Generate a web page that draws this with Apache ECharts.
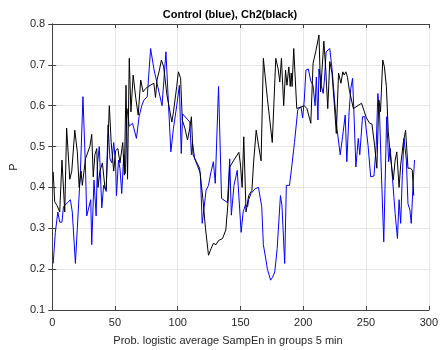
<!DOCTYPE html>
<html>
<head>
<meta charset="utf-8">
<script src="https://cdn.jsdelivr.net/npm/echarts@6/dist/echarts.min.js"></script>
<style>
  html, body { margin: 0; padding: 0; background: #fff; }
  #chart { width: 441px; height: 350px; }
</style>
</head>
<body>
<div id="chart"></div>
<script>
// values, [x, P]
const control = [
  [0.8,0.214],[2.5,0.29],[4.5,0.34],[6,0.315],[7.8,0.315],[9,0.353],[10.5,0.357],[13,0.365],[14.5,0.37],[16,0.34],
  [18.5,0.214],[20,0.30],[22.5,0.44],[24.5,0.622],[26.5,0.45],[27.5,0.33],[29,0.33],[30.7,0.37],[31.5,0.26],[33.3,0.418],
  [35,0.33],[36,0.455],[37.5,0.50],[39.5,0.35],[41,0.405],[43,0.39],[44.5,0.553],[46,0.47],[47.5,0.46],[49,0.51],
  [50.5,0.46],[51.2,0.38],[52.8,0.467],[54,0.446],[55.4,0.385],[57,0.48],[58.3,0.434],[59.6,0.593],[61.4,0.55],[64,0.557],
  [67.1,0.52],[69.2,0.573],[71.3,0.60],[73.1,0.614],[75.7,0.622],[78.4,0.74],[81,0.69],[83.5,0.655],[87.5,0.60],[90.6,0.732],
  [92.7,0.60],[94.5,0.487],[96.6,0.545],[99.2,0.60],[101.3,0.65],[102.8,0.483],[103.9,0.58],[109.6,0.56],[110.9,0.48],[111.7,0.51],
  [113.5,0.47],[116.1,0.45],[118,0.434],[119.5,0.312],[122.6,0.393],[124.5,0.405],[126.5,0.438],[128.4,0.463],[129.9,0.41],[132.5,0.647],
  [134.9,0.373],[139.6,0.363],[141.4,0.47],[142.7,0.332],[144.8,0.405],[147.4,0.442],[150.5,0.29],[152.1,0.34],[153.9,0.357],[155.7,0.353],
  [156.5,0.37],[158.3,0.385],[161.7,0.397],[164.3,0.40],[166.9,0.353],[168.2,0.26],[170.3,0.222],[171.4,0.20],[172.4,0.20],[174,0.173],
  [175.5,0.18],[177.3,0.193],[179.2,0.25],[180.5,0.25],[181.8,0.38],[183,0.357],[185.2,0.214],[186.5,0.405],[189,0.405],[190.4,0.44],
  [193,0.51],[195.6,0.59],[198.2,0.597],[199.5,0.57],[200.8,0.614],[202.1,0.687],[204,0.69],[206,0.66],[207.8,0.65],[209.4,0.60],
  [210.4,0.67],[211.7,0.565],[212.5,0.69],[214.3,0.65],[215.9,0.63],[217,0.67],[218.2,0.732],[221.1,0.74],[222.9,0.69],[224.8,0.618],
  [226.8,0.545],[229.4,0.48],[231.3,0.524],[233.4,0.577],[234.7,0.463],[236.5,0.585],[237.8,0.642],[239.3,0.667],[240.6,0.56],[241.9,0.45],
  [243.8,0.52],[245,0.48],[247.2,0.573],[249,0.573],[251.6,0.503],[253.7,0.426],[256.3,0.428],[258.1,0.503],[259.4,0.63],[260.7,0.585],
  [262,0.455],[264.1,0.267],[266.4,0.573],[268,0.463],[269.3,0.495],[271.1,0.42],[273.2,0.336],[275,0.275],[276.3,0.37],[277.6,0.312],
  [278.9,0.43],[280.2,0.52],[282.1,0.467],[283.4,0.36],[284.9,0.345],[286,0.312],[287.5,0.41],[288.6,0.467]
]

const ch2 = [
  [0.8,0.438],[2,0.365],[4,0.355],[6,0.34],[7.8,0.467],[10,0.34],[11.5,0.545],[14,0.42],[15.6,0.44],[18,0.54],
  [20,0.487],[21.5,0.40],[23,0.44],[24,0.405],[26.5,0.47],[30,0.50],[31.5,0.53],[32.7,0.426],[34,0.48],[35.5,0.495],
  [36.5,0.40],[38,0.44],[40,0.46],[42,0.40],[43,0.395],[45.5,0.60],[47,0.51],[49,0.44],[50.5,0.49],[52.3,0.495],
  [54,0.46],[56.2,0.51],[57.5,0.43],[58.8,0.65],[60,0.42],[61.4,0.716],[62.7,0.585],[64.5,0.675],[66.6,0.618],[68.5,0.577],
  [70.5,0.663],[72.4,0.634],[74.4,0.642],[77,0.648],[81,0.655],[82.3,0.62],[83.5,0.663],[85.4,0.687],[87,0.712],[88.8,0.695],
  [91.4,0.626],[95.3,0.56],[96.6,0.585],[99.2,0.647],[100.5,0.683],[102.3,0.667],[103.6,0.565],[105.7,0.545],[107.8,0.516],[109.6,0.545],
  [110.9,0.573],[112.2,0.48],[114.8,0.463],[117.4,0.447],[120,0.373],[122.1,0.30],[124.5,0.234],[126.5,0.25],[128.4,0.263],[130.5,0.26],
  [132.5,0.27],[135.7,0.275],[138.3,0.296],[140.1,0.365],[141.4,0.45],[144.8,0.467],[148.7,0.486],[150,0.455],[151.3,0.40],[152.6,0.524],
  [154.4,0.34],[156.5,0.38],[159.1,0.393],[160.4,0.46],[162.5,0.54],[164.3,0.504],[166.4,0.465],[168.2,0.716],[171.4,0.618],[175.3,0.51],
  [178.1,0.716],[180,0.69],[181.3,0.658],[182.6,0.716],[184.4,0.60],[185.9,0.687],[187,0.65],[188.5,0.695],[189.6,0.647],[190.4,0.68],
  [191.1,0.647],[192.4,0.74],[194.8,0.593],[198.2,0.597],[200.8,0.60],[202.9,0.593],[206,0.557],[207.8,0.704],[209.9,0.732],[212.5,0.773],
  [213.8,0.634],[215.1,0.63],[216.4,0.758],[218,0.683],[219.5,0.593],[221.1,0.708],[222.9,0.68],[224.8,0.60],[226.3,0.532],[228.1,0.68],
  [230,0.655],[231.5,0.683],[232.6,0.675],[233.9,0.683],[235.2,0.67],[236.7,0.638],[239.9,0.593],[246.4,0.606],[250.3,0.57],[252.9,0.557],
  [254.7,0.555],[256.8,0.503],[258.6,0.447],[260.2,0.614],[261.5,0.585],[263.3,0.712],[264.6,0.695],[266.2,0.647],[267.7,0.536],[269.3,0.48],
  [270.4,0.45],[271.7,0.418],[273.2,0.467],[274.5,0.487],[276.3,0.40],[277.6,0.455],[279.7,0.51],[281.5,0.54],[283.4,0.447],[285.5,0.447],
  [286.8,0.442],[288,0.38]
]

const xTicks = { min: 0, max: 300, step: 50 }
const yTicks = { min: 0.1, max: 0.8, step: 0.1 }

const font = 'Liberation Sans, Arial, Helvetica, sans-serif'
const axisColor = '#404040'
const textColor = '#262626'

const chart = echarts.init(document.getElementById('chart'), null, { renderer: 'canvas' })

const frameAxis = (pos) => ({
    position: pos,
    axisLine: { show: true, lineStyle: { color: axisColor, width: 1 } },
    axisTick: { show: true, inside: true, length: 4, lineStyle: { color: axisColor } },
    axisLabel: { show: false },
    splitLine: { show: false },
})

const option = {
    animation: false,
    title: [
        {
            text: 'Control (blue), Ch2(black)',
            left: 225, top: 4, textAlign: 'center',
            textStyle: { fontFamily: font, fontSize: 11, fontWeight: 'bold', color: '#000' },
        },
        {
            text: 'Prob. logistic average SampEn in groups 5 min',
            left: 223, top: 330, textAlign: 'center',
            textStyle: { fontFamily: font, fontSize: 11, fontWeight: 'normal', color: textColor },
        },
    ],
    grid: { left: 51, right: 6, top: 24, bottom: 40, containLabel: false },
    xAxis: [
        {
            type: 'value', min: xTicks.min, max: xTicks.max, interval: xTicks.step,
            position: 'bottom',
            axisLine: { show: true, lineStyle: { color: axisColor, width: 1 } },
            axisTick: { show: true, inside: true, length: 4, lineStyle: { color: axisColor } },
            axisLabel: { color: textColor, fontFamily: font, fontSize: 11, margin: 7 },
            splitLine: { show: true, lineStyle: { color: '#e6e6e6', width: 1 } },
        },
        Object.assign({ type: 'value', min: xTicks.min, max: xTicks.max, interval: xTicks.step }, frameAxis('top')),
    ],
    yAxis: [
        {
            type: 'value', min: yTicks.min, max: yTicks.max, interval: yTicks.step,
            position: 'left',
            name: 'P', nameLocation: 'middle', nameGap: 32, nameRotate: 90,
            nameTextStyle: { color: textColor, fontFamily: font, fontSize: 11 },
            axisLine: { show: true, lineStyle: { color: axisColor, width: 1 } },
            axisTick: { show: true, inside: true, length: 4, lineStyle: { color: axisColor } },
            axisLabel: { color: textColor, fontFamily: font, fontSize: 11, margin: 7, formatter: (v) => v.toFixed(1) },
            splitLine: { show: true, lineStyle: { color: '#e6e6e6', width: 1 } },
        },
        Object.assign({ type: 'value', min: yTicks.min, max: yTicks.max, interval: yTicks.step }, frameAxis('right')),
    ],
    series: [
        {
            name: 'Control', type: 'line', data: control,
            showSymbol: false, symbol: 'none',
            lineStyle: { color: '#0000ff', width: 1 },
            z: 2,
        },
        {
            name: 'Ch2', type: 'line', data: ch2,
            showSymbol: false, symbol: 'none',
            lineStyle: { color: '#000000', width: 1 },
            z: 3,
        },
    ],
}

chart.setOption(option)
</script>
</body>
</html>
